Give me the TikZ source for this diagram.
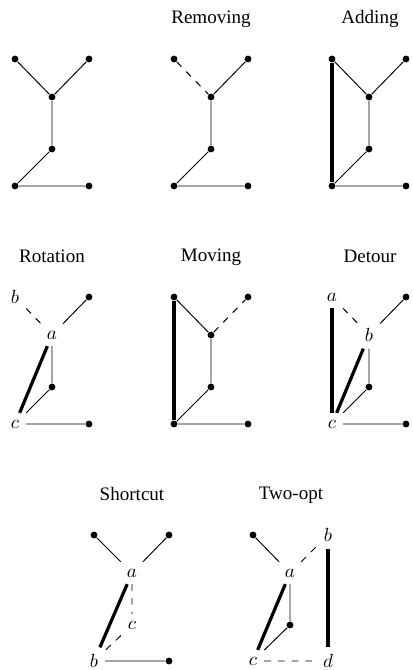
\documentclass[tikz,border=0pt]{standalone}
\usepackage{fontspec}
\setmainfont{Liberation Serif}
\usetikzlibrary{positioning}
\tikzset{
  vtx/.style={circle, fill=black, inner sep=0pt, minimum size=3.6pt},
  tag/.style={inner sep=3.5pt},
  title/.style={anchor=base},
  edge/.style={line width=0.5pt},
  cut/.style={edge, dash pattern=on 3.6pt off 3.6pt},
  bold/.style={line width=1.7pt}
}

\begin{document}
\begin{tikzpicture}[x=0.525pt,y=-0.525pt]
  \useasboundingbox (0,0) rectangle (412,670);

  % panels made of dots only
  \foreach \p/\cx/\ty in {org/52/59, rem/211/59, add/369/59, mov/211/297}{
    \foreach \v/\dx/\dy in {L/-37/0, R/37/0, M/0/38, N/0/90, P/-37/127, Q/37/127}
      \node[vtx] (\p\v) at (\cx+\dx,\ty+\dy) {};
  }

  \node[title] (remT) at (211,24) {Removing};
  \node[title] (addT) at (370,24) {Adding};
  \node[title] (rotT) at (52,262) {Rotation};
  \node[title] (movT) at (211,261) {Moving};
  \node[title] (detT) at (370,262) {Detour};
  \node[title] (shcT) at (132,500) {Shortcut};
  \node[title] (twoT) at (291,499) {Two-opt};

  % rotation
  \node[tag] (rotL) at (15,297) {$b$};
  \node[vtx] (rotR) at (89,297) {};
  \node[tag] (rotM) at (52,335) {$a$};
  \node[vtx] (rotN) at (52,387) {};
  \node[tag] (rotP) at (15,424) {$c$};
  \node[vtx] (rotQ) at (89,424) {};

  % detour
  \node[tag] (detL) at (332,297) {$a$};
  \node[vtx] (detR) at (406,297) {};
  \node[tag] (detM) at (369,335) {$b$};
  \node[vtx] (detN) at (369,387) {};
  \node[tag] (detP) at (332,424) {$c$};
  \node[vtx] (detQ) at (406,424) {};

  % shortcut
  \node[vtx] (shcL) at (94,535) {};
  \node[vtx] (shcR) at (169,535) {};
  \node[tag] (shcM) at (132,573) {$a$};
  \node[tag] (shcN) at (132,625) {$c$};
  \node[tag] (shcP) at (94,661) {$b$};
  \node[vtx] (shcQ) at (169,661) {};

  % two-opt
  \node[vtx] (twoL) at (253,535) {};
  \node[tag] (twoR) at (328,535) {$b$};
  \node[tag] (twoM) at (290,573) {$a$};
  \node[vtx] (twoN) at (290,625) {};
  \node[tag] (twoP) at (253,661) {$c$};
  \node[tag] (twoQ) at (328,661) {$d$};

  % shared edges
  \foreach \p in {org,rem,add,mov,rot,det}
    \draw[edge] (\p M) -- (\p N) (\p N) -- (\p P) (\p P) -- (\p Q);
  \foreach \p in {org,rem,add,rot,det}
    \draw[edge] (\p R) -- (\p M);
  \foreach \p in {org,add,mov}
    \draw[edge] (\p L) -- (\p M);
  \foreach \p in {rem,rot,det}
    \draw[cut] (\p L) -- (\p M);
  \draw[cut] (movM) -- (movR);
  \draw[bold] (addL) -- (addP);
  \draw[bold] (movL) -- (movP);
  \draw[bold] (rotM) -- (rotP);
  \draw[bold] (detM) -- (detP);
  \draw[bold] (detL) -- (detP);

  \draw[edge] (shcL) -- (shcM) (shcR) -- (shcM) (shcP) -- (shcQ);
  \draw[cut] (shcM) -- (shcN) (shcN) -- (shcP);
  \draw[bold] (shcM) -- (shcP);

  \draw[edge] (twoL) -- (twoM) (twoM) -- (twoN) (twoN) -- (twoP);
  \draw[cut] (twoM) -- (twoR) (twoP) -- (twoQ);
  \draw[bold] (twoM) -- (twoP);
  \draw[bold] (twoR) -- (twoQ);
\end{tikzpicture}
\end{document}
